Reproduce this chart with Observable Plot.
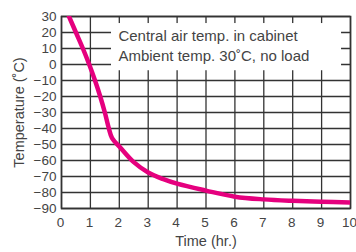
<!DOCTYPE html>
<html>
<head>
<meta charset="utf-8">
<script src="https://cdn.jsdelivr.net/npm/d3@7"></script>
<script src="https://cdn.jsdelivr.net/npm/@observablehq/plot@0.6"></script>
<style>
  html, body { margin: 0; padding: 0; background: #fff; }
  #chart svg { display: block; }
</style>
</head>
<body>
<div id="chart"></div>
<script>
// Data
const timeHr = [0.26, 0.5, 0.74, 0.96, 1.16, 1.34, 1.5, 1.64, 1.75, 2.04, 2.5, 3, 3.5, 4, 5, 6, 7, 8, 9, 10];
const tempC  = [30, 20, 10, 0, -10, -20, -30, -40, -46, -52, -61, -67.5, -71.5, -74.5, -78.8, -82.6, -84.3, -85.2, -85.8, -86.3];
const xTicks = [0, 1, 2, 3, 4, 5, 6, 7, 8, 9, 10];
const yTicks = [30, 20, 10, 0, -10, -20, -30, -40, -50, -60, -70, -80, -90];
const noteLines = ["Central air temp. in cabinet", "Ambient temp. 30\u02DAC, no load"];
const xLabel = "Time (hr.)";
const yLabel = "Temperature (\u02DAC)";

const data = timeHr.map((t, i) => ({t, v: tempC[i]}));
const ink = "#333";
const textInk = "#444";
const font = "'Liberation Sans', Arial, sans-serif";

const chart = Plot.plot({
  width: 356,
  height: 252,
  marginLeft: 61,
  marginRight: 6,
  marginTop: 16,
  marginBottom: 44,
  style: {fontFamily: font, fontSize: "13px", color: textInk, background: "#fff"},
  x: {domain: [0, 10]},
  y: {domain: [-90, 30]},
  marks: [
    Plot.gridX(xTicks, {stroke: ink, strokeOpacity: 1, strokeWidth: 1.3}),
    Plot.gridY(yTicks, {stroke: ink, strokeOpacity: 1, strokeWidth: 1.3}),
    Plot.rect([0], {x1: 1.73, x2: 9.69, y1: -3.9, y2: 25.6, fill: "#fff"}),
    Plot.frame({stroke: ink, strokeWidth: 1.6}),
    Plot.axisX(xTicks, {tickSize: 0, tickPadding: 9, dx: -1, fontSize: 13.5, label: null}),
    Plot.axisX({tickSize: 0, ticks: [], label: xLabel, labelAnchor: "center", labelArrow: "none", labelOffset: 37, fontSize: 14.5}),
    Plot.axisY(yTicks, {tickSize: 0, tickPadding: 5, fontSize: 13.5, label: null}),
    Plot.axisY({tickSize: 0, ticks: [], label: yLabel, labelAnchor: "center", labelArrow: "none", labelOffset: 48, fontSize: 14.5}),
    Plot.line(data, {x: "t", y: "v", stroke: "#e5007e", strokeWidth: 4.5, curve: "catmull-rom", clip: true}),
    Plot.text([noteLines[0]], {x: 1.97, y: 18, text: d => d, textAnchor: "start", fill: textInk, fontSize: 15}),
    Plot.text([noteLines[1]], {x: 1.97, y: 5.5, text: d => d, textAnchor: "start", fill: textInk, fontSize: 15})
  ]
});
document.getElementById("chart").appendChild(chart);
</script>
</body>
</html>
